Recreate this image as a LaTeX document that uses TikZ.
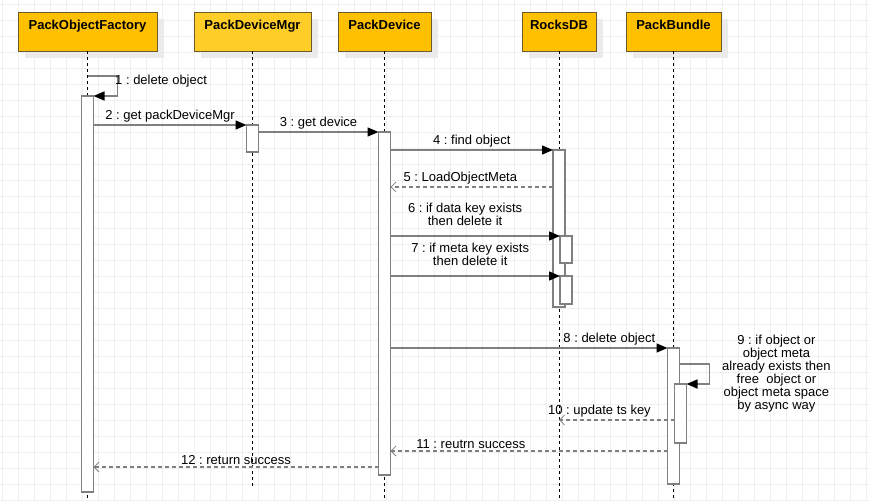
\documentclass[tikz,border=0pt]{standalone}
\usepackage{fontspec}
\setsansfont{Liberation Sans}
\usepackage{xcolor}
\usepackage{tikz}
\usetikzlibrary{arrows.meta,positioning,shadows}
\definecolor{amber}{HTML}{FFC000}
\definecolor{amberlight}{HTML}{FFCD28}
\definecolor{umber}{HTML}{6B5B2E}
\definecolor{wire}{HTML}{808080}
\definecolor{gridgray}{HTML}{EFEFEF}
\frenchspacing

\begin{document}
\begin{tikzpicture}[
  x=1pt, y=-1pt,
  font=\sffamily,
  hdr/.style={draw=umber, line width=1pt, fill=amber, minimum height=39pt, inner sep=0pt, outer sep=0pt,
    font=\sffamily\bfseries\fontsize{13pt}{15pt}\selectfont, text height=10pt, text depth=14pt,
    drop shadow={shadow xshift=7pt, shadow yshift=-7pt, fill=black!8, opacity=1}},
  life/.style={draw=black, line width=0.8pt, dash pattern=on 3pt off 3pt},
  act/.style={draw=wire, line width=1.5pt, fill=white, minimum width=12pt, inner sep=0pt, outer sep=0pt},
  msg/.style={draw=wire, line width=1.4pt, -{Triangle[length=11pt,width=9pt,color=black]}},
  ret/.style={draw=wire, line width=1.2pt, dash pattern=on 4pt off 3pt, -{Straight Barb[length=5pt,width=10pt,line width=0.8pt]}},
  lbl/.style={font=\sffamily\fontsize{13pt}{13pt}\selectfont, inner sep=2pt, align=center},
  gridline/.style={draw=gridgray, line width=0.8pt}
]
  \useasboundingbox (0,0) rectangle (869,501);
  \fill[white] (0,0) rectangle (869,501);
  \foreach \gx in {0,...,54} \draw[gridline] (2.7+16*\gx,0) -- (2.7+16*\gx,501);
  \foreach \gy in {0,...,31} \draw[gridline] (0,4+16*\gy) -- (869,4+16*\gy);

  \node[hdr, minimum width=139pt] (pof) at (87.5,31.5) {PackObjectFactory};
  \node[hdr, fill=amberlight, minimum width=117pt, right=37pt of pof] (pdm) {PackDeviceMgr};
  \node[hdr, minimum width=93pt, right=27pt of pdm] (pd) {PackDevice};
  \node[hdr, minimum width=74pt, right=91pt of pd] (rdb) {RocksDB};
  \node[hdr, minimum width=95pt, right=30pt of rdb] (pb) {PackBundle};

  \foreach \ll/\len in {pof/449, pdm/435, pd/449, rdb/449, pb/449}
    \draw[life] (\ll.south) -- ++(0,\len);

  \node[act, minimum height=396pt, below=45pt of pof] (pofA) {};
  \node[act, minimum height=27pt, below=74pt of pdm] (pdmA) {};
  \node[act, minimum height=343pt, below=81pt of pd] (pdA) {};
  \node[act, minimum height=157pt, below=99pt of rdb] (rdbA) {};
  \node[act, minimum height=27pt, below=185pt of rdb, xshift=7pt] (rdbB) {};
  \node[act, minimum height=28pt, below=225pt of rdb, xshift=7pt] (rdbC) {};
  \node[act, minimum height=136pt, below=297pt of pb] (pbA) {};
  \node[act, minimum height=59pt, below=333pt of pb, xshift=7pt] (pbB) {};

  \draw[msg] ([yshift=-25pt]pof.south) -- ++(30,0) -- ++(0,20)
    node[lbl, pos=0.25, right=-5pt] (l1) {1 : delete object} -- (pofA.north east);
  \draw[msg] ([yshift=-29pt]pofA.north east) -- node[lbl, above] (l2) {2 : get packDeviceMgr} (pdmA.north west);
  \draw[msg] ([yshift=-7pt]pdmA.north east) -- node[lbl, above] (l3) {3 : get device} (pdA.north west);
  \draw[msg] ([yshift=-18pt]pdA.north east) -- node[lbl, above] (l4) {4 : find object} (rdbA.north west);
  \draw[ret] ([yshift=-37pt]rdbA.north west) coordinate (r5)
    -- node[lbl, above, pos=0.57] (l5) {5 : LoadObjectMeta} (pdA.east |- r5);
  \draw[msg] (pdA.east |- rdbB.north)
    -- node[lbl, above=8pt, pos=0.44] (l6) {6 : if data key exists\\then delete it} (rdbB.north west);
  \draw[msg] (pdA.east |- rdbC.north)
    -- node[lbl, above=8pt, pos=0.47] (l7) {7 : if meta key exists\\then delete it} (rdbC.north west);
  \draw[msg] (pdA.east |- pbA.north) -- node[lbl, above, pos=0.79] (l8) {8 : delete object} (pbA.north west);
  \draw[msg] ([yshift=-16pt]pbA.north east) -- ++(30,0) -- ++(0,20)
    node[lbl, midway, right=10pt] (l9) {9 : if object or\\object meta\\already exists then\\free~ object or\\object meta space\\by async way}
    -- (pbB.north east);
  \draw[ret] ([yshift=-36pt]pbB.north west) coordinate (r10)
    -- node[lbl, above, pos=0.65] (l10) {10 : update ts key} (rdb.south |- r10);
  \draw[ret] ([yshift=-103pt]pbA.north west) coordinate (r11)
    -- node[lbl, above, pos=0.71] (l11) {11 : reutrn success} (pdA.east |- r11);
  \draw[ret] ([yshift=-335pt]pdA.north west) coordinate (r12)
    -- node[lbl, above] (l12) {12 : return success} (pofA.east |- r12);
\end{tikzpicture}
\end{document}
